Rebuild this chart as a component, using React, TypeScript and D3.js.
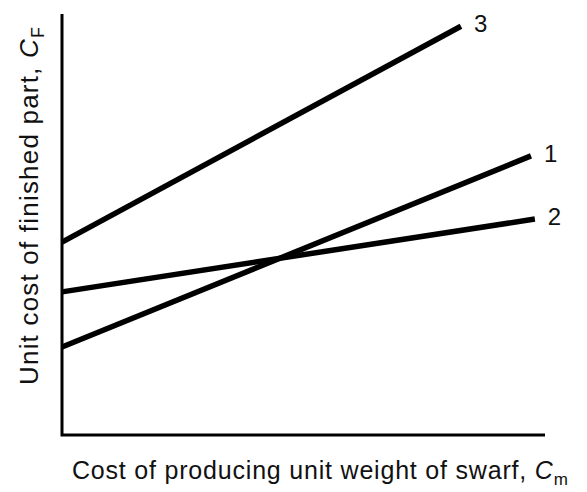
import React from 'react';
import * as d3 from 'd3';

// line endpoints (arbitrary units, 0..10)
const lineIds = ['3', '1', '2'];
const startY = [4.58, 2.09, 3.40];
const endX = [8.26, 9.71, 9.79];
const endY = [9.71, 6.63, 5.13];

const W = 587;
const H = 492;
const margin = { top: 14, right: 42, bottom: 57, left: 62 };

const App = () => {
  const x = d3.scaleLinear().domain([0, 10]).range([margin.left, W - margin.right]);
  const y = d3.scaleLinear().domain([0, 10]).range([H - margin.bottom, margin.top]);
  const line = d3.line<[number, number]>().x(d => x(d[0])).y(d => y(d[1]));
  const font = 'Liberation Sans, Arial, sans-serif';

  return (
    <svg width={W} height={H} style={{ position: 'absolute', left: 0, top: 0 }} fontFamily={font}>
      <rect width={W} height={H} fill="#fff" />
      {/* axes */}
      <path d={`M${x(0)},${y(10)}V${y(0)}H${x(10)}`} fill="none" stroke="#000" strokeWidth={3} />
      {lineIds.map((id, i) => {
        const pts: [number, number][] = [[0, startY[i]], [endX[i], endY[i]]];
        return (
          <g key={id}>
            <path d={line(pts) || ''} fill="none" stroke="#000" strokeWidth={5.5} />
            <text x={x(endX[i]) + 13} y={y(endY[i]) + 6} fontSize={24} fill="#111">{id}</text>
          </g>
        );
      })}
      <text x={72} y={479} fontSize={25} letterSpacing={0.8} fill="#111">
        Cost of producing unit weight of swarf, <tspan fontStyle="italic">C</tspan>
        <tspan fontSize={17} dy={6}>m</tspan>
      </text>
      <text transform={`translate(38,385) rotate(-90)`} fontSize={26} letterSpacing={1.2} fill="#111">
        Unit cost of finished part, <tspan fontStyle="italic">C</tspan>
        <tspan fontSize={18} dy={6}>F</tspan>
      </text>
    </svg>
  );
};

export default App;
